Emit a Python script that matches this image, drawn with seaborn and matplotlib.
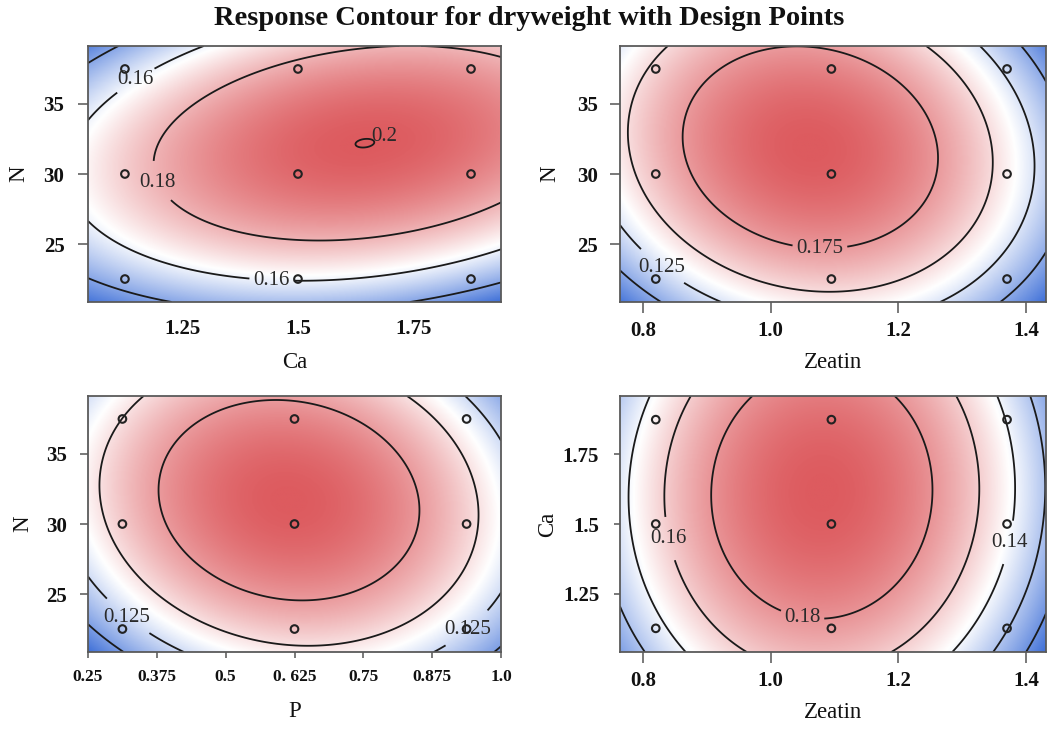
import numpy as np
import pandas as pd
import matplotlib
matplotlib.use("Agg")
import matplotlib.pyplot as plt
import seaborn as sns
from matplotlib.colors import LinearSegmentedColormap

# ---------------- data ----------------
TITLE = "Response Contour for dryweight with Design Points"

# design levels of the factors
ca_levels = [1.125, 1.5, 1.875]
n_levels = [22.5, 30.0, 37.5]
zeatin_levels = [0.82, 1.095, 1.37]
p_levels = [0.3125, 0.625, 0.9375]

# fitted second-order surfaces:
# [peak, x_centre, y_centre, curvature_x, curvature_y, interaction]
surf_ca_n = [0.20004, 1.645, 32.2, 0.1002, 0.000435, 0.002836]
surf_zeatin_n = [0.199, 1.062, 31.9, 0.607, 0.000466, -0.0035]
surf_p_n = [0.1975, 0.615, 31.7, 0.405, 0.000444, -0.0027]
surf_zeatin_ca = [0.1995, 1.08, 1.613, 0.65, 0.095, 0.01]

# contour levels (all drawn) and the labelled ones
levels_ca_n = [0.14, 0.16, 0.18, 0.2]
levels_zeatin_n = [0.1, 0.125, 0.15, 0.175]
levels_p_n = [0.1, 0.125, 0.15, 0.175]
levels_zeatin_ca = [0.1, 0.12, 0.14, 0.16, 0.18]
labelled_ca_n = [0.16, 0.18]
labelled_zeatin_n = [0.125, 0.175]
labelled_p_n = [0.125]
labelled_zeatin_ca = [0.14, 0.16, 0.18]

# axis ranges
range_ca = [1.045, 1.94]
range_ca_y = [1.04, 1.96]
range_n = [20.86, 39.14]
range_zeatin = [0.764, 1.431]
range_p = [0.25, 1.0]

# ticks
ticks_ca = [1.25, 1.5, 1.75]
ticklabels_ca = ["1.25", "1.5", "1.75"]
ticks_n = [25, 30, 35]
ticklabels_n = ["25", "30", "35"]
ticks_zeatin = [0.8, 1.0, 1.2, 1.4]
ticklabels_zeatin = ["0.8", "1.0", "1.2", "1.4"]
ticks_p = [0.25, 0.375, 0.5, 0.625, 0.75, 0.875, 1.0]
ticklabels_p = ["0.25", "0.375", "0.5", "0. 625", "0.75", "0.875", "1.0"]

# ---------------- style ----------------
sns.set_theme(style="white")
plt.rcParams["font.family"] = ["Liberation Serif", "DejaVu Serif"]

cmap = LinearSegmentedColormap.from_list("bwr_soft", ["#3F70D8", "#FFFFFF", "#DD5B5F"])

fig = plt.figure(figsize=(10.49, 7.29), dpi=100)

W, H = 1049.0, 729.0
def axes_px(x0, x1, y0, y1):
    return fig.add_axes([x0 / W, 1 - y1 / H, (x1 - x0) / W, (y1 - y0) / H])

ax1 = axes_px(88, 501, 46, 302)
ax2 = axes_px(620, 1046, 46, 302)
ax3 = axes_px(88, 501, 396, 652)
ax4 = axes_px(620, 1046, 396, 652)

panels = [
    dict(ax=ax1, surf=surf_ca_n, xr=range_ca, yr=range_n, xd=ca_levels, yd=n_levels,
         levels=levels_ca_n, lab_levels=labelled_ca_n, xlabel="Ca", ylabel="N",
         xt=ticks_ca, xtl=ticklabels_ca, yt=ticks_n, ytl=ticklabels_n,
         lab_pos=[(1.15, 36.6), (1.443, 22.6), (1.19, 29.3)],
         xtick_len=0, xpad=12, ytick_len=7, ypad=10, xfs=15,
         xlab_y=-0.238, ylab_x=-0.167),
    dict(ax=ax2, surf=surf_zeatin_n, xr=range_zeatin, yr=range_n, xd=zeatin_levels, yd=n_levels,
         levels=levels_zeatin_n, lab_levels=labelled_zeatin_n, xlabel="Zeatin", ylabel="N",
         xt=ticks_zeatin, xtl=ticklabels_zeatin, yt=ticks_n, ytl=ticklabels_n,
         lab_pos=[(0.83, 23.4), (1.077, 24.8)],
         xtick_len=8, xpad=6, ytick_len=7, ypad=9, xfs=15,
         xlab_y=-0.238, ylab_x=-0.164),
    dict(ax=ax3, surf=surf_p_n, xr=range_p, yr=range_n, xd=p_levels, yd=n_levels,
         levels=levels_p_n, lab_levels=labelled_p_n, xlabel="P", ylabel="N",
         xt=ticks_p, xtl=ticklabels_p, yt=ticks_n, ytl=ticklabels_n,
         lab_pos=[(0.32, 23.3), (0.935, 22.7)],
         xtick_len=4, xpad=8, ytick_len=6, ypad=9, xfs=12.5,
         xlab_y=-0.234, ylab_x=-0.157),
    dict(ax=ax4, surf=surf_zeatin_ca, xr=range_zeatin, yr=range_ca_y, xd=zeatin_levels, yd=ca_levels,
         levels=levels_zeatin_ca, lab_levels=labelled_zeatin_ca, xlabel="Zeatin", ylabel="Ca",
         xt=ticks_zeatin, xtl=ticklabels_zeatin, yt=ticks_ca, ytl=ticklabels_ca,
         lab_pos=[(0.827, 1.44), (1.05, 1.175), (1.36, 1.44)],
         xtick_len=8, xpad=6, ytick_len=4, ypad=11, xfs=15,
         xlab_y=-0.238, ylab_x=-0.169),
]

for p in panels:
    ax = p["ax"]
    P, x0, y0, a, c, d = p["surf"]
    gx = np.linspace(p["xr"][0], p["xr"][1], 400)
    gy = np.linspace(p["yr"][0], p["yr"][1], 300)
    X, Y = np.meshgrid(gx, gy)
    U, V = X - x0, Y - y0
    Z = P - a * U ** 2 - c * V ** 2 + d * U * V

    ax.imshow(Z, extent=[gx[0], gx[-1], gy[0], gy[-1]], origin="lower", aspect="auto",
              cmap=cmap, vmin=Z.min(), vmax=Z.max(), interpolation="bilinear", zorder=0)
    plain = [lv for lv in p["levels"] if lv not in p["lab_levels"]]
    ax.contour(X, Y, Z, levels=plain, colors="#1a1a1a", linewidths=1.3, zorder=2)
    cs = ax.contour(X, Y, Z, levels=p["lab_levels"], colors="#1a1a1a", linewidths=1.3, zorder=2)
    txts = ax.clabel(cs, inline=True, inline_spacing=4, manual=p["lab_pos"],
                     fmt=lambda v: f"{v:g}", fontsize=15, colors="#2a2a2a")
    for t in txts:
        t.set_rotation(0)

    # design points
    pts = pd.DataFrame([(xv, yv) for yv in p["yd"] for xv in p["xd"]], columns=["x", "y"])
    sns.scatterplot(data=pts, x="x", y="y", ax=ax, marker="o", s=30, facecolor="none",
                    edgecolor="#222222", linewidth=1.5, zorder=3, legend=False)

    ax.set_xlim(p["xr"])
    ax.set_ylim(p["yr"])
    ax.set_xticks(p["xt"])
    ax.set_xticklabels(p["xtl"], fontweight="bold", fontsize=p["xfs"])
    ax.set_yticks(p["yt"])
    ax.set_yticklabels(p["ytl"], fontweight="bold", fontsize=15)
    ax.tick_params(axis="x", length=p["xtick_len"], pad=p["xpad"], color="#555555",
                   width=1.1, bottom=True, labelcolor="#111111")
    ax.tick_params(axis="y", length=p["ytick_len"], pad=p["ypad"], color="#555555",
                   width=1.1, left=True, labelcolor="#111111")
    ax.set_xlabel(p["xlabel"], fontsize=16.5, color="#111111")
    ax.set_ylabel(p["ylabel"], fontsize=16.5, color="#111111")
    ax.xaxis.set_label_coords(0.5, p["xlab_y"])
    ax.xaxis.label.set_va("center")
    ax.yaxis.set_label_coords(p["ylab_x"], 0.5)
    ax.yaxis.label.set_va("center")
    for s in ax.spines.values():
        s.set_color("#5a5a5a")
        s.set_linewidth(1.3)
        s.set_zorder(5)

# tiny 0.2 peak loop label in the Ca/N panel
ax1.text(1.688, 32.65, "0.2", fontsize=15, color="#2a2a2a", ha="center", va="center", zorder=4)

fig.text(0.504, 0.975, TITLE, ha="center", va="center", fontsize=20.5, fontweight="bold",
         color="#111111")

fig.savefig("out.png", dpi=100)
